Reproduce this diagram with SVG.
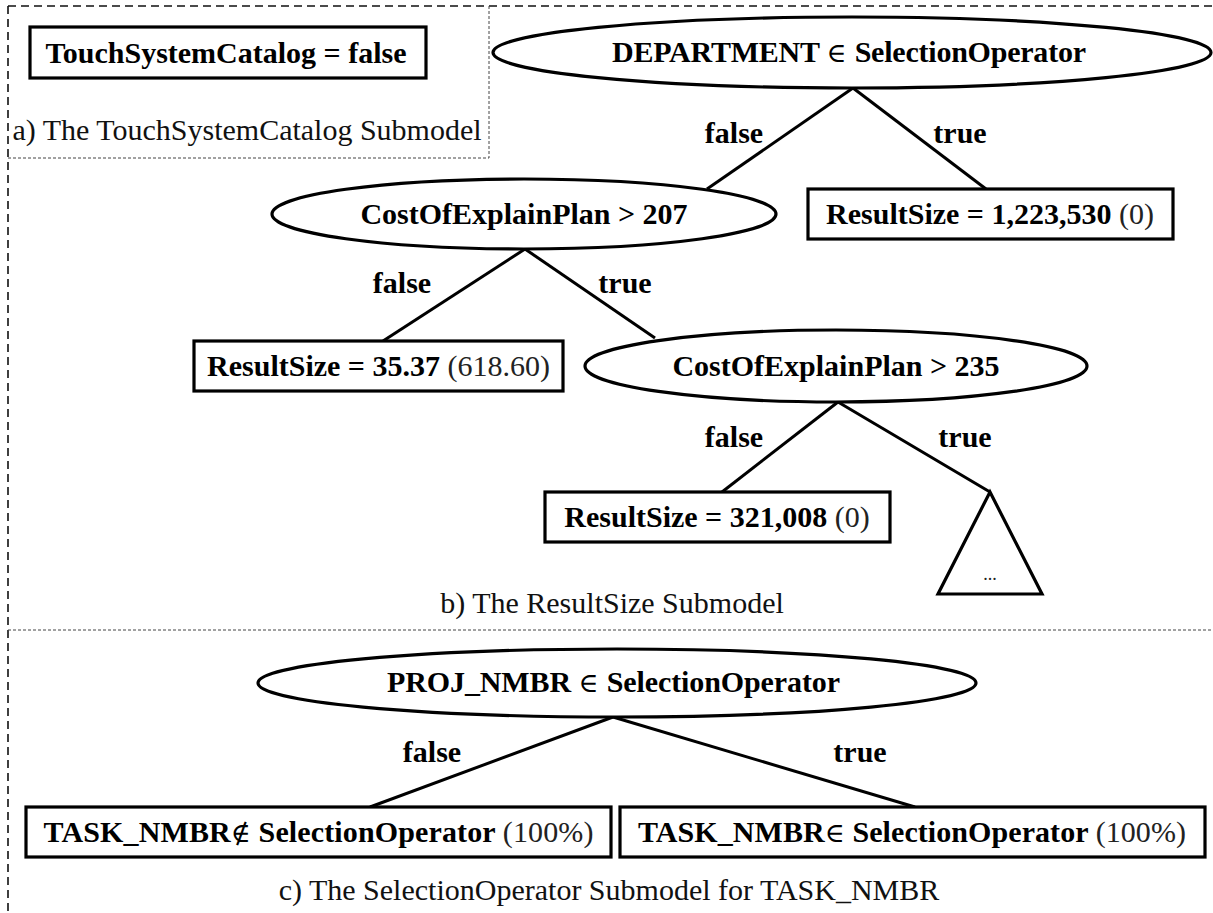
<svg xmlns="http://www.w3.org/2000/svg" width="1213" height="913" viewBox="0 0 1213 913">
  <style>
    .frame { fill: none; stroke: #111; stroke-width: 1.6; stroke-dasharray: 8 5; }
    .divider { fill: none; stroke: #444; stroke-width: 1; stroke-dasharray: 3 2; }
    .node { fill: #fff; stroke: #000; stroke-width: 3.2; }
    .edge { stroke: #000; stroke-width: 3; fill: none; }
    text { font-family: "Liberation Serif", "Times New Roman", serif; font-size: 30px; fill: #000; }
    .b { font-weight: bold; }
    .r { font-weight: normal; fill: #222; }
    .sym { font-family: "DejaVu Serif", serif; font-weight: normal; font-size: 27px; }
    .cap { font-weight: normal; fill: #111; }
    .lbl { font-weight: bold; text-anchor: middle; }
    .mid { text-anchor: middle; }
  </style>

  <rect width="1213" height="913" fill="#fff"/>

  <!-- outer frame and section dividers -->
  <g id="frames">
    <path class="frame" d="M8 6 H1213 M8 6 V913"/>
    <path class="divider" d="M489 6 V158 M8 158 H489"/>
    <path class="divider" d="M8 630 H1213"/>
  </g>

  <!-- connectors -->
  <g id="connectors">
    <line class="edge" x1="853" y1="88" x2="707" y2="189"/>
    <line class="edge" x1="853" y1="88" x2="986" y2="189"/>
    <line class="edge" x1="525" y1="249" x2="383" y2="341"/>
    <line class="edge" x1="525" y1="249" x2="655" y2="338"/>
    <line class="edge" x1="838" y1="402" x2="722" y2="492"/>
    <line class="edge" x1="838" y1="402" x2="990" y2="492"/>
    <line class="edge" x1="613" y1="717" x2="370" y2="807"/>
    <line class="edge" x1="613" y1="717" x2="915" y2="807"/>
  </g>

  <!-- edge labels -->
  <g id="edge-labels">
    <text class="lbl" x="734" y="143">false</text>
    <text class="lbl" x="960" y="143">true</text>
    <text class="lbl" x="402" y="293">false</text>
    <text class="lbl" x="625" y="293">true</text>
    <text class="lbl" x="734" y="447">false</text>
    <text class="lbl" x="965" y="447">true</text>
    <text class="lbl" x="432" y="762">false</text>
    <text class="lbl" x="860" y="762">true</text>
  </g>

  <!-- a) TouchSystemCatalog submodel -->
  <g id="touch-catalog">
    <rect class="node" x="30" y="27" width="396" height="51"/>
    <text class="b mid" x="226" y="63">TouchSystemCatalog = false</text>
  </g>
  <text id="caption-a" class="cap mid" x="247" y="140">a) The TouchSystemCatalog Submodel</text>

  <!-- b) ResultSize submodel -->
  <g id="department">
    <ellipse class="node" cx="852" cy="52.5" rx="359" ry="35.5"/>
    <text class="b mid" x="849" y="62" textLength="474">DEPARTMENT <tspan class="sym">∈ </tspan>SelectionOperator</text>
  </g>
  <g id="cost-207">
    <ellipse class="node" cx="524" cy="214" rx="252" ry="35"/>
    <text class="b mid" x="524" y="224">CostOfExplainPlan &gt; 207</text>
  </g>
  <g id="result-1223530">
    <rect class="node" x="808" y="189" width="365" height="50"/>
    <text class="b mid" x="990" y="224">ResultSize = 1,223,530 <tspan class="r">(0)</tspan></text>
  </g>
  <g id="result-3537">
    <rect class="node" x="194" y="341" width="369" height="50"/>
    <text class="b mid" x="378.5" y="376">ResultSize = 35.37 <tspan class="r">(618.60)</tspan></text>
  </g>
  <g id="cost-235">
    <ellipse class="node" cx="836" cy="366" rx="251" ry="36"/>
    <text class="b mid" x="836" y="376">CostOfExplainPlan &gt; 235</text>
  </g>
  <g id="result-321008">
    <rect class="node" x="545" y="492" width="345" height="50"/>
    <text class="b mid" x="717" y="527">ResultSize = 321,008 <tspan class="r">(0)</tspan></text>
  </g>
  <g id="subtree">
    <polygon class="node" points="990,492 1042,594 938,594"/>
    <text class="r mid" x="990" y="580" style="font-size:18px">...</text>
  </g>
  <text id="caption-b" class="cap mid" x="612" y="613">b) The ResultSize Submodel</text>

  <!-- c) SelectionOperator submodel for TASK_NMBR -->
  <g id="proj-nmbr">
    <ellipse class="node" cx="617" cy="683" rx="359" ry="34"/>
    <text class="b mid" x="613.5" y="692" textLength="453">PROJ_NMBR <tspan class="sym">∈ </tspan>SelectionOperator</text>
  </g>
  <g id="task-not-in">
    <rect class="node" x="26" y="807" width="585" height="50"/>
    <text class="b mid" x="318.5" y="842" textLength="550">TASK_NMBR<tspan class="sym">∉</tspan> SelectionOperator <tspan class="r">(100%)</tspan></text>
  </g>
  <g id="task-in">
    <rect class="node" x="620" y="807" width="585" height="50"/>
    <text class="b mid" x="912" y="842" textLength="548">TASK_NMBR<tspan class="sym">∈</tspan> SelectionOperator <tspan class="r">(100%)</tspan></text>
  </g>
  <text id="caption-c" class="cap mid" x="609" y="900">c) The SelectionOperator Submodel for TASK_NMBR</text>
</svg>
